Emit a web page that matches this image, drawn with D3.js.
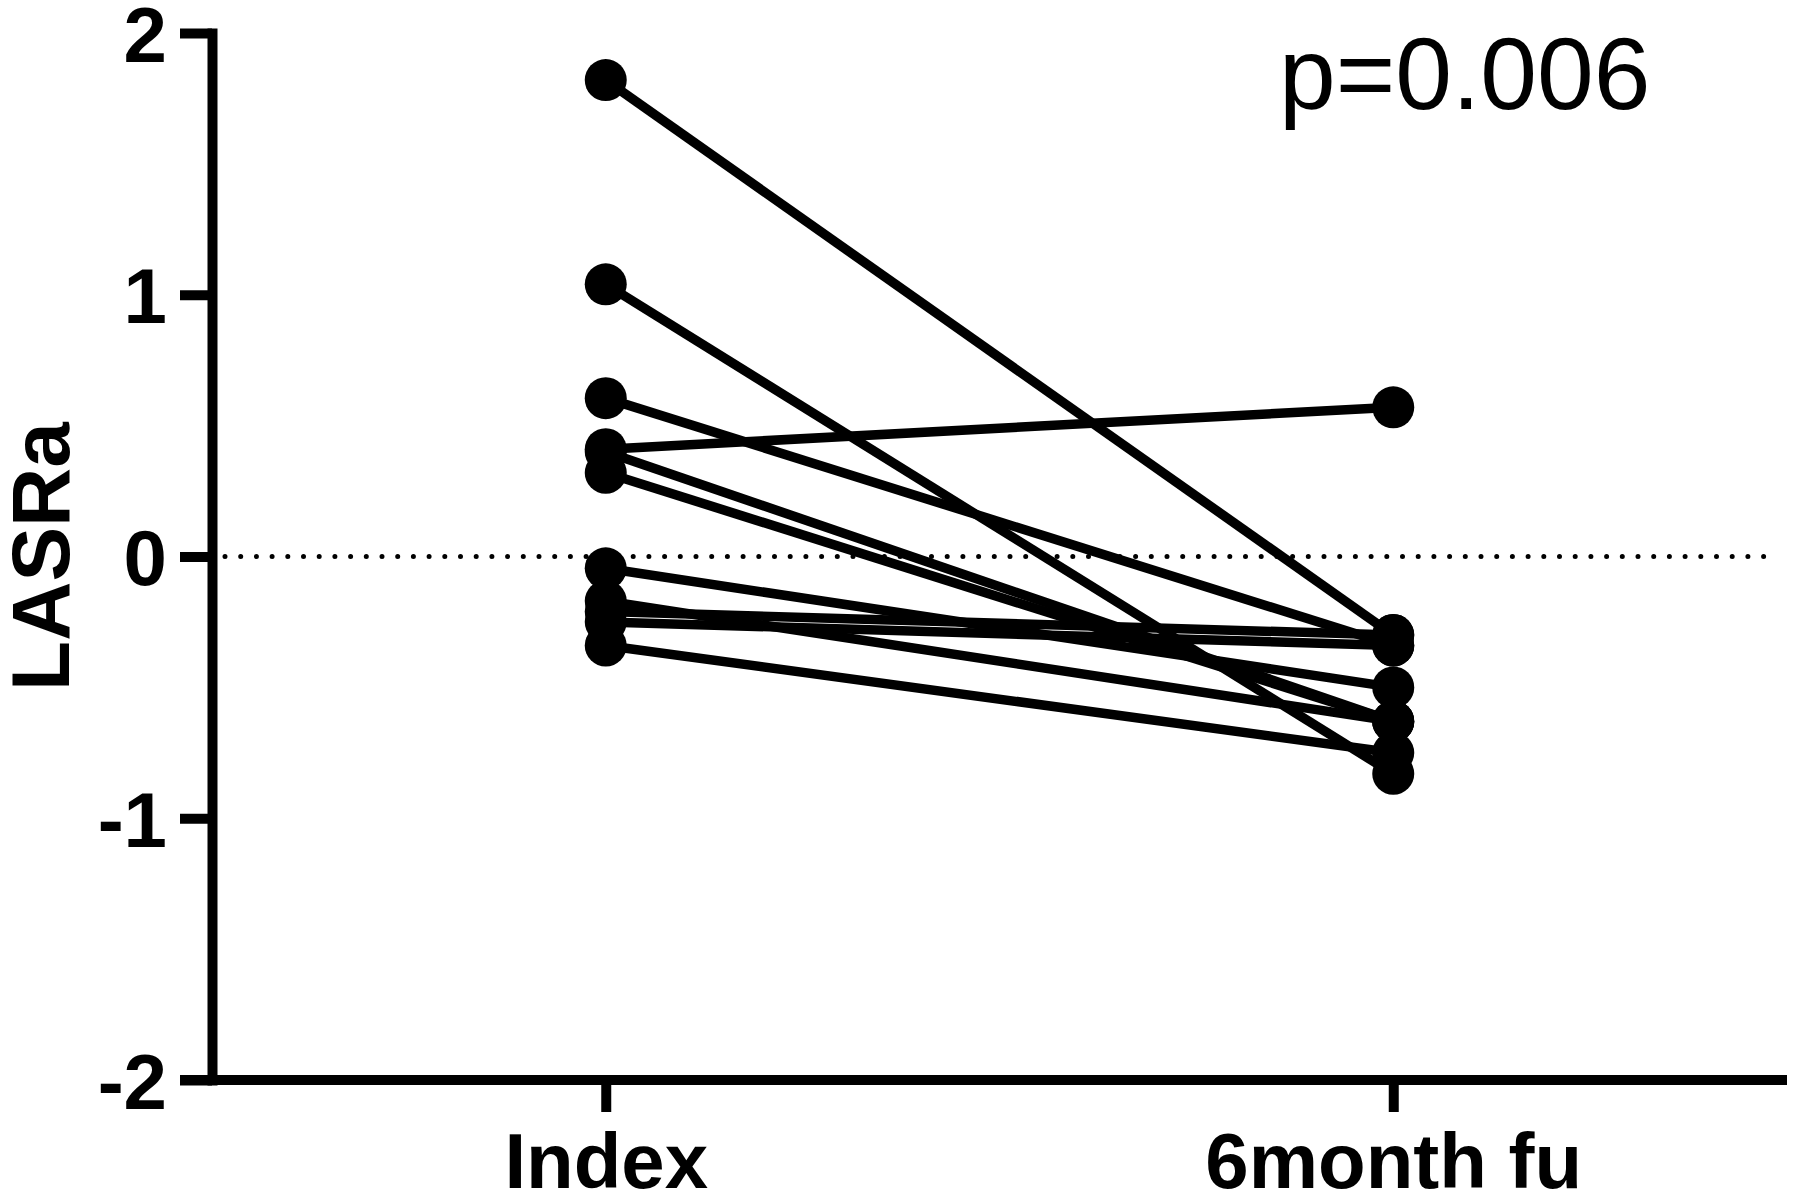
<!DOCTYPE html>
<html>
<head>
<meta charset="utf-8">
<script src="https://cdn.jsdelivr.net/npm/d3@7"></script>
<style>
  html, body { margin: 0; padding: 0; background: #fff; }
  svg { display: block; font-family: "Liberation Sans", Arial, sans-serif; }
</style>
</head>
<body>
<svg id="chart" width="1794" height="1204"></svg>
<script>
// ---- data ----
const categories = ["Index", "6month fu"];
const indexValues = [1.82, 1.04, 0.605, 0.41, 0.40, 0.32, -0.045, -0.17, -0.21, -0.25, -0.34];
const followUpValues = [-0.30, -0.83, -0.34, 0.57, -0.63, -0.63, -0.50, -0.63, -0.30, -0.34, -0.75];
const yTicks = [-2, -1, 0, 1, 2];
const yTickLabels = ["-2", "-1", "0", "1", "2"];
const yLabel = "LASRa";
const pText = "p=0.006";

const svg = d3.select("#chart");

const x = d3.scalePoint().domain(categories).range([212, 1787]).padding(0.5);
const y = d3.scaleLinear().domain([-2, 2]).range([1080, 33]);

const AXW = 10;

// zero reference dotted line
svg.append("line")
  .attr("x1", 225).attr("x2", 1772)
  .attr("y1", y(0)).attr("y2", y(0))
  .attr("stroke", "#000").attr("stroke-width", 5)
  .attr("stroke-linecap", "round")
  .attr("stroke-dasharray", "0 15.7");

// y axis
const gy = svg.append("g").attr("transform", `translate(212,0)`)
  .call(d3.axisLeft(y).tickValues(yTicks)
    .tickFormat((d, i) => yTickLabels[yTicks.indexOf(d)])
    .tickSize(32).tickSizeOuter(0).tickPadding(13));
gy.select(".domain").attr("stroke-width", AXW).attr("stroke-linecap", "square");
gy.selectAll(".tick line").attr("stroke-width", AXW);
gy.selectAll(".tick text").attr("font-size", 78).attr("font-weight", "bold").attr("dy", "0.36em")
  .attr("font-family", "'Liberation Sans', Arial, sans-serif").attr("fill", "#000");

// x axis
const gx = svg.append("g").attr("transform", `translate(0,${y(-2)})`)
  .call(d3.axisBottom(x).tickSize(32).tickSizeOuter(0));
gx.select(".domain").attr("stroke-width", AXW).attr("d", `M180,0H1787`);
gx.selectAll(".tick line").attr("stroke-width", AXW);
gx.selectAll(".tick text").attr("font-size", 78).attr("font-weight", "bold")
  .attr("y", 108).attr("dy", "0")
  .attr("font-family", "'Liberation Sans', Arial, sans-serif").attr("fill", "#000");

// paired lines
const pairs = indexValues.map((v, i) => [v, followUpValues[i]]);
svg.append("g").selectAll("line").data(pairs).join("line")
  .attr("x1", x(categories[0])).attr("x2", x(categories[1]))
  .attr("y1", d => y(d[0])).attr("y2", d => y(d[1]))
  .attr("stroke", "#000").attr("stroke-width", 9.5);

// points
svg.append("g").selectAll("circle").data(indexValues).join("circle")
  .attr("cx", x(categories[0])).attr("cy", d => y(d)).attr("r", 21).attr("fill", "#000");
svg.append("g").selectAll("circle").data(followUpValues).join("circle")
  .attr("cx", x(categories[1])).attr("cy", d => y(d)).attr("r", 21).attr("fill", "#000");

// y label
svg.append("text")
  .attr("transform", `translate(69,${y(0)}) rotate(-90)`)
  .attr("text-anchor", "middle")
  .attr("font-size", 82).attr("font-weight", "bold")
  .text(yLabel);

// p value
svg.append("text")
  .attr("x", 1279).attr("y", 109)
  .attr("font-size", 102)
  .text(pText);
</script>
</body>
</html>
